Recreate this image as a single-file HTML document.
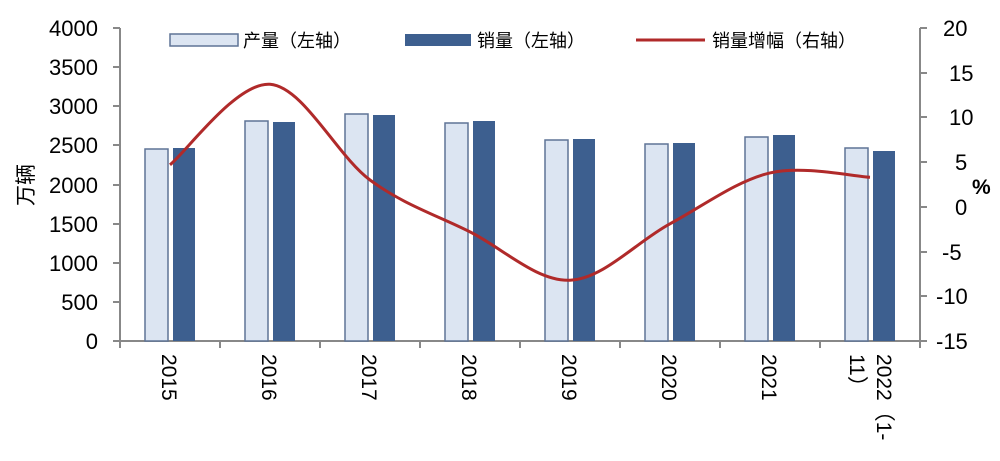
<!DOCTYPE html><html><head><meta charset="utf-8"><style>
body{margin:0;background:#fff;width:1000px;height:461px;overflow:hidden;position:relative;font-family:"Liberation Sans","Noto Sans CJK SC",sans-serif}
.xl{position:absolute;top:354px;writing-mode:vertical-rl;font-size:21px;color:#000;line-height:27px}
</style></head><body>
<svg width="1000" height="461" style="position:absolute;left:0;top:0">
<g font-size="22" fill="#000" text-anchor="end" font-family="Liberation Sans,sans-serif">
<text x="98" y="36">4000</text><text x="98" y="75">3500</text><text x="98" y="114">3000</text><text x="98" y="153">2500</text><text x="98" y="193">2000</text><text x="98" y="232">1500</text><text x="98" y="271">1000</text><text x="98" y="310">500</text><text x="98" y="349">0</text>
</g>
<g font-size="22" fill="#000" text-anchor="start" font-family="Liberation Sans,sans-serif">
<text x="943" y="36">20</text><text x="949" y="81">15</text><text x="949" y="125">10</text><text x="955" y="170">5</text><text x="955" y="215">0</text><text x="942" y="260">-5</text><text x="936" y="304">-10</text><text x="936" y="349">-15</text>
</g>
<text x="972" y="194" font-size="21" font-weight="bold" font-family="Liberation Sans,sans-serif">%</text>
<text transform="translate(33,185) rotate(-90)" text-anchor="middle" font-size="21" font-family="Noto Sans CJK SC,sans-serif">万辆</text>
<g stroke="#888" stroke-width="2" fill="none">
<path d="M120 28V341H920V28"/>
<path d="M113 28H120M113 67H120M113 106H120M113 145H120M113 185H120M113 224H120M113 263H120M113 302H120M113 341H120"/>
<path d="M920 28H927M920 73H927M920 117H927M920 162H927M920 207H927M920 252H927M920 296H927M920 341H927"/>
<path d="M120 341V348M220 341V348M320 341V348M420 341V348M520 341V348M620 341V348M720 341V348M820 341V348M920 341V348"/>
</g>
<g fill="#dce5f2" stroke="#5f7496" stroke-width="1.5">
<rect x="145" y="149" width="23" height="192"/>
<rect x="245" y="121" width="23" height="220"/>
<rect x="345" y="114" width="23" height="227"/>
<rect x="445" y="123" width="23" height="218"/>
<rect x="545" y="140" width="23" height="201"/>
<rect x="645" y="144" width="23" height="197"/>
<rect x="745" y="137" width="23" height="204"/>
<rect x="845" y="148" width="23" height="193"/>
</g>
<g fill="#3d5f8f">
<rect x="173" y="148" width="22" height="193"/>
<rect x="273" y="122" width="22" height="219"/>
<rect x="373" y="115" width="22" height="226"/>
<rect x="473" y="121" width="22" height="220"/>
<rect x="573" y="139" width="22" height="202"/>
<rect x="673" y="143" width="22" height="198"/>
<rect x="773" y="135" width="22" height="206"/>
<rect x="873" y="151" width="22" height="190"/>
</g>
<path d="M170 164.8C186.7 151.4 236.7 81.8 270 84.3C303.3 86.8 336.7 155.4 370 180C403.3 204.6 436.7 215.2 470 231.9C503.3 248.6 536.7 281.6 570 280.2C603.3 278.9 636.7 241.7 670 223.8C703.3 205.9 736.7 180.7 770 172.9C803.3 165.2 853.3 176.6 870 177.3" stroke="#b02a2a" stroke-width="3" fill="none"/>
<rect x="170" y="34" width="68" height="12" fill="#dce5f2" stroke="#5f7496" stroke-width="1.5"/>
<rect x="405" y="34" width="66" height="12" fill="#3d5f8f"/>
<path d="M636 40H705" stroke="#b02a2a" stroke-width="3"/>
<g font-size="18" font-family="Noto Sans CJK SC,sans-serif" fill="#000">
<text x="243" y="47">产量（左轴）</text>
<text x="477" y="47">销量（左轴）</text>
<text x="712" y="47">销量增幅（右轴）</text>
</g>
</svg>
<div class="xl" style="left:155px">2015</div>
<div class="xl" style="left:255px">2016</div>
<div class="xl" style="left:355px">2017</div>
<div class="xl" style="left:455px">2018</div>
<div class="xl" style="left:555px">2019</div>
<div class="xl" style="left:655px">2020</div>
<div class="xl" style="left:755px">2021</div>
<div class="xl" style="left:843px">2022（1-<br>11）</div>
</body></html>
